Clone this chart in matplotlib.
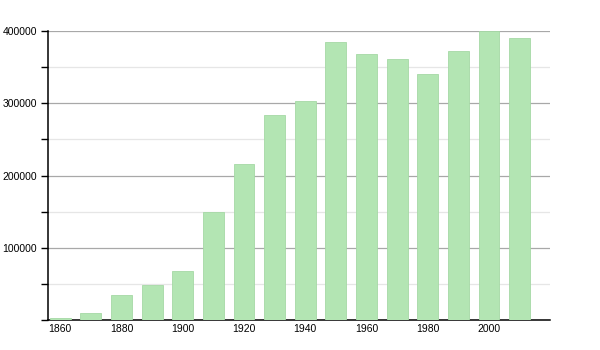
import matplotlib.pyplot as plt
from matplotlib.ticker import MultipleLocator

plt.rcParams['font.family'] = ['Liberation Sans', 'DejaVu Sans']

years = [1860, 1870, 1880, 1890, 1900, 1910, 1920, 1930,
         1940, 1950, 1960, 1970, 1980, 1990, 2000, 2010]
population = [2000, 10000, 35000, 48000, 68000, 149000, 216000, 284000,
              303000, 385000, 368000, 362000, 340000, 372000, 400000, 391000]
tick_years = [1860, 1880, 1900, 1920, 1940, 1960, 1980, 2000]

fig = plt.figure(figsize=(6, 3.5), dpi=100)
ax = fig.add_axes([0.08, 0.086, 0.837, 0.825])

ax.bar(years, population, width=6.8, color='#b3e5b3', edgecolor='#a5d9a5',
       linewidth=0.6, zorder=3)

ax.set_xlim(1856, 2020)
ax.set_ylim(0, 400000)
ax.yaxis.set_major_locator(MultipleLocator(100000))
ax.yaxis.set_minor_locator(MultipleLocator(50000))
ax.set_yticks([100000, 200000, 300000, 400000])
ax.set_xticks(tick_years)

ax.grid(axis='y', which='major', color='#a8a8a8', linewidth=0.9, zorder=0)
ax.grid(axis='y', which='minor', color='#e6e6e6', linewidth=0.9, zorder=0)

for s in ['top', 'right']:
    ax.spines[s].set_visible(False)
ax.spines['left'].set_linewidth(1.1)
ax.spines['bottom'].set_linewidth(1.1)

ax.tick_params(axis='y', which='both', length=5, width=1, labelsize=7.5, pad=3)
ax.tick_params(axis='x', length=0, labelsize=7.5, pad=3)

fig.savefig('out.png', dpi=100)
